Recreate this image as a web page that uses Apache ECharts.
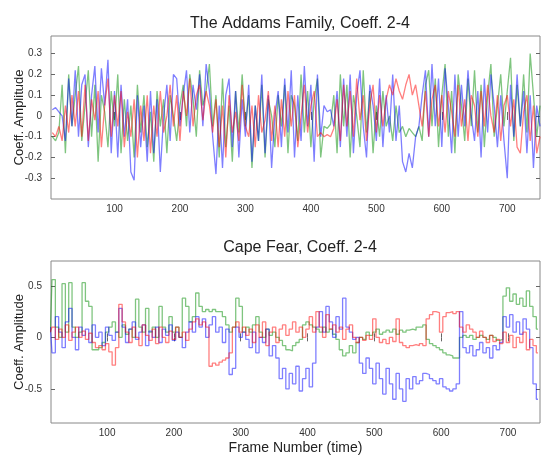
<!DOCTYPE html>
<html>
<head>
<meta charset="utf-8">
<script src="https://cdn.jsdelivr.net/npm/echarts@6.0.0/dist/echarts.min.js"></script>
<style>
  html, body { margin: 0; padding: 0; background: #fff; }
  #chart { width: 541px; height: 459px; }
</style>
</head>
<body>
<div id="chart"></div>
<script>
  // frames are sampled every 5 frames
  const frameStep = 5;
  const addamsStart = 5;
  const capeStart = 15;

  // The Addams Family, coeff. 2-4
  const addamsBlue = [
    0.03, 0.04, 0.02, 0.0, -0.12, 0.18, -0.05, 0.22, -0.1, 0.15,
    0.2, -0.15, 0.1, 0.24, -0.08, 0.23, 0.05, 0.27, -0.18, 0.12,
    -0.2, 0.15, -0.1, 0.08, -0.27, -0.31, 0.1, -0.15, 0.05, -0.22,
    0.12, -0.18, 0.08, -0.27, 0.0, 0.15, -0.12, 0.2, 0.18, -0.05,
    0.1, 0.22, -0.08, 0.15, 0.03, 0.2, -0.05, 0.25, 0.12, -0.1,
    -0.28, 0.05, -0.25, 0.1, 0.18, -0.15, 0.12, -0.2, 0.08, -0.1,
    0.15, -0.22, 0.05, -0.12, 0.2, -0.18, 0.1, -0.25, 0.0, 0.12,
    -0.15, 0.18, -0.08, 0.22, -0.2, 0.1, -0.12, 0.24, -0.05, 0.15,
    -0.22, 0.2, -0.1, 0.05, 0.02, 0.03, -0.05, 0.12, -0.15, 0.18,
    -0.1, 0.2, -0.18, 0.1, 0.22, -0.05, -0.2, 0.15, 0.05, -0.12,
    0.18, -0.15, 0.1, -0.08, 0.2, -0.12, 0.05, -0.22, -0.27, -0.18,
    -0.25, -0.1, -0.05, 0.1, 0.22, -0.1, 0.25, -0.05, 0.18, -0.15,
    0.23, 0.05, -0.18, 0.2, -0.1, 0.15, -0.05, 0.22, 0.0, -0.12,
    0.12, -0.2, 0.18, -0.08, 0.2, 0.05, -0.15, 0.1, -0.12, -0.3,
    0.15, -0.1, 0.2, -0.05, 0.12, -0.18, 0.1, -0.25, 0.05, -0.05
  ];
  const addamsRed = [
    -0.08, -0.1, -0.05, -0.12, 0.05, -0.08, 0.1, -0.05, 0.12, -0.1,
    0.15, -0.12, 0.08, -0.02, 0.12, -0.15, 0.05, 0.18, -0.1, 0.1,
    -0.05, 0.12, -0.15, 0.02, -0.1, 0.08, -0.2, 0.05, -0.12, 0.1,
    -0.18, 0.05, -0.1, 0.12, -0.08, 0.0, 0.15, -0.05, 0.1, -0.12,
    0.12, 0.0, 0.18, -0.05, 0.1, 0.15, -0.02, 0.12, 0.05, -0.08,
    0.08, -0.15, 0.05, -0.2, 0.1, -0.08, 0.02, -0.12, 0.15, -0.05,
    -0.1, 0.05, -0.15, 0.1, -0.08, -0.02, 0.12, -0.12, 0.05, -0.15,
    0.08, -0.1, 0.12, -0.05, 0.1, -0.15, 0.0, 0.15, -0.08, 0.05,
    0.12, -0.1, -0.08, -0.1, -0.09, -0.1, -0.06, 0.08, -0.12, 0.15,
    -0.05, 0.12, -0.1, 0.18, -0.02, 0.1, -0.12, 0.05, 0.15, -0.08,
    0.1, -0.05, 0.08, 0.15, 0.1, 0.18, 0.12, 0.08, 0.15, 0.2,
    0.1, 0.15, 0.05, -0.05, 0.12, -0.1, 0.08, 0.15, -0.05, 0.1,
    -0.08, 0.12, 0.02, -0.1, 0.15, -0.05, 0.08, -0.12, 0.1, 0.05,
    -0.1, 0.12, -0.05, 0.15, 0.0, -0.08, 0.1, -0.12, 0.05, 0.1,
    -0.05, 0.08, -0.15, -0.18, 0.02, 0.1, -0.12, 0.05, -0.18, -0.1
  ];
  const addamsGreen = [
    -0.1, -0.12, -0.08, 0.15, -0.18, 0.2, -0.05, 0.1, 0.24, -0.12,
    0.05, 0.22, -0.1, 0.15, -0.22, 0.1, 0.02, -0.15, 0.12, -0.05,
    0.2, -0.18, 0.08, -0.12, 0.05, -0.2, 0.15, -0.08, 0.1, -0.15,
    0.02, -0.22, 0.12, -0.05, 0.08, -0.18, 0.1, 0.0, -0.12, 0.05,
    0.15, -0.05, 0.2, 0.08, -0.1, 0.22, 0.05, 0.12, 0.25, -0.05,
    0.1, -0.2, 0.18, -0.15, 0.05, -0.22, 0.12, -0.08, 0.2, -0.05,
    0.1, -0.25, 0.05, -0.12, 0.15, -0.2, 0.08, 0.0, -0.15, 0.1,
    -0.05, 0.15, -0.18, 0.1, 0.05, -0.12, 0.2, -0.08, 0.12, -0.15,
    0.08, 0.18, -0.2, -0.05, -0.06, -0.04, 0.1, -0.18, 0.2, -0.05,
    0.15, -0.2, 0.1, 0.0, -0.15, 0.22, -0.08, 0.12, -0.18, 0.05,
    -0.1, 0.12, -0.05, 0.0, -0.12, 0.05, -0.08, -0.05, -0.1, -0.06,
    -0.08, -0.1, -0.05, -0.12, 0.15, 0.22, -0.05, 0.18, -0.15, 0.1,
    0.25, -0.1, 0.12, -0.18, 0.2, 0.05, -0.12, 0.18, -0.05, 0.22,
    -0.08, 0.15, -0.15, 0.1, 0.25, -0.1, 0.05, 0.2, -0.05, 0.12,
    0.28, -0.12, 0.15, -0.05, 0.2, -0.08, 0.3, 0.1, -0.1, 0.05
  ];

  // Cape Fear, coeff. 2-4
  const capeGreen = [
    0.05, 0.56, 0.1, 0.0, 0.52, 0.05, 0.53, 0.1, 0.0, 0.05,
    0.53, 0.35, 0.3, -0.12, -0.12, -0.1, -0.05, 0.05, 0.1, 0.15,
    0.05, 0.0, 0.12, 0.03, 0.08, 0.0, 0.37, 0.1, 0.05, 0.28,
    0.05, 0.1, 0.0, 0.3, 0.1, 0.05, 0.2, 0.05, 0.1, 0.0,
    0.38, 0.3, 0.15, 0.2, 0.43, 0.3, 0.25, 0.27,
    0.25, 0.27, 0.25, 0.25, 0.2, 0.12, 0.05, 0.1, 0.38, 0.3,
    0.05, 0.1, 0.05, 0.12, 0.2, 0.05, 0.0, 0.08, 0.02, 0.05,
    0.0, -0.03, -0.08, -0.12, -0.13, -0.08, -0.05, -0.02, 0.12, 0.15,
    0.12, 0.1, 0.08, 0.05, 0.1, 0.05, 0.08, 0.03, -0.02, -0.12,
    -0.18, -0.15, -0.08, -0.15, -0.05, 0.0, -0.02, 0.05, 0.02, 0.05,
    0.08, 0.03, 0.05, 0.07, 0.05, 0.08, 0.03, 0.07, 0.05, 0.07,
    0.08, 0.07, 0.1, 0.1, 0.12, -0.02, -0.06, -0.08, -0.1, -0.12,
    -0.15, -0.17, -0.18, -0.2, -0.2, 0.0, 0.02, 0.0, 0.02, -0.02,
    0.0, 0.02, 0.0, -0.02, 0.02, 0.0, -0.03, -0.02, 0.4, 0.48,
    0.35, 0.42, 0.32, 0.38, 0.3, 0.45, 0.3, 0.2, 0.08
  ];
  const capeRed = [
    0.05, 0.1, -0.02, 0.08, 0.0, 0.12, -0.03, 0.05, 0.1, 0.0, 0.06, -0.02, 0.04,
    -0.05, -0.1, -0.08, -0.12, -0.06, -0.14, -0.27,
    -0.1, 0.32, 0.15,
    0.05, -0.05, 0.1, 0.0, -0.08, 0.12, 0.02, -0.03, 0.08, -0.06, 0.1, 0.0, -0.05, 0.06, -0.02, 0.1, 0.0,
    0.05, -0.03, 0.08,
    0.15, 0.18, 0.12, 0.15, 0.1,
    -0.28, -0.25, -0.27, -0.24, -0.22, -0.2, -0.15,
    0.1, 0.15, 0.05, 0.1, 0.02, 0.08,
    -0.05, 0.12, 0.0, 0.15, -0.08, 0.05, 0.1, -0.05, 0.08,
    0.12, 0.02, 0.08, 0.15, 0.05, 0.1, 0.0, 0.08,
    0.2, 0.05, 0.25, 0.1, 0.0, 0.22, 0.08, 0.12,
    0.05, 0.1, -0.02, 0.08, 0.12, 0.0, -0.05, 0.0, -0.03, 0.02,
    -0.02, 0.18, 0.0, -0.05, -0.02, -0.06, 0.0, -0.04, 0.18,
    -0.05, -0.08, -0.1, -0.08, -0.07, -0.08, -0.06, -0.08,
    0.18, 0.22, 0.25, 0.24, 0.05, 0.2, 0.24, 0.25, 0.23, 0.25,
    0.1, 0.05, 0.12, 0.08, 0.05, 0.0, 0.06,
    0.0, -0.05, 0.02, -0.04, -0.02, -0.06,
    0.05, -0.05, 0.02, -0.1, 0.0, -0.05, 0.05, -0.12, -0.02, -0.08, -0.15
  ];
  const capeBlue = [
    0.1, -0.15, 0.2, 0.05, -0.1, 0.15, 0.28, 0.0, -0.12, 0.1, 0.02,
    0.08, -0.05, 0.12, 0.0, 0.05, -0.08, 0.1, 0.02, -0.03, 0.05,
    0.28,
    0.1, -0.05, 0.08, 0.15, -0.02, 0.05, 0.12, -0.08, 0.06, 0.0, 0.1, -0.05, 0.08, 0.02, 0.12, -0.03, 0.05, 0.0, -0.1, 0.05,
    0.15, 0.05, 0.2, 0.1, 0.18, 0.0, 0.12, 0.2, 0.05, 0.1, -0.05, 0.08,
    -0.36, -0.3,
    0.1, 0.0, 0.05, -0.02,
    -0.1, 0.05, -0.15, 0.0, -0.05, 0.08, -0.18, -0.08,
    -0.2, -0.4, -0.3, -0.5, -0.35, -0.45, -0.28, -0.52, -0.4, -0.3, -0.48, -0.25,
    0.1, 0.25, 0.05, 0.3, 0.15, 0.0, 0.2, 0.08, 0.38, 0.1,
    0.05, -0.02, 0.0,
    -0.25, -0.35, -0.2, -0.3, -0.45, -0.25, -0.4, -0.55, -0.3, -0.45, -0.6, -0.35, -0.5, -0.62, -0.4, -0.5, -0.38, -0.45, -0.42, -0.35,
    -0.36, -0.4, -0.42, -0.45, -0.4, -0.48, -0.5, -0.52, -0.5, -0.45,
    0.25, -0.1, -0.15, -0.08, -0.18, -0.12, -0.05, -0.15, -0.1, -0.2, -0.08, -0.12, -0.05,
    0.2, 0.1, 0.22, 0.05, 0.15, 0.03, 0.18, 0.08, -0.1, -0.45, -0.6
  ];

  // tick labels
  const frameTicks = [100, 200, 300, 400, 500, 600, 700];
  const addamsTicks = [-0.3, -0.2, -0.1, 0, 0.1, 0.2, 0.3];
  const capeTicks = [-0.5, 0, 0.5];

  const fontFam = '"Liberation Sans", Arial, Helvetica, sans-serif';
  const red = 'rgba(255,0,0,0.5)';
  const green = 'rgba(0,140,0,0.5)';
  const blue = 'rgba(0,0,255,0.5)';

  function toPoints(values, start) {
    return values.map(function (v, i) { return [start + i * frameStep, v]; });
  }

  function xAxisFor(gridIndex, min, max, top) {
    return {
      type: 'value', gridIndex: gridIndex, min: min, max: max,
      position: top ? 'top' : 'bottom',
      axisLine: {show: false},
      splitLine: {show: false},
      axisTick: {show: true, inside: true, length: 4, customValues: frameTicks,
        lineStyle: {color: '#666'}},
      axisLabel: {show: !top, customValues: frameTicks, margin: 5,
        fontSize: 10, color: '#333', fontFamily: fontFam}
    };
  }

  function yAxisFor(gridIndex, min, max, ticks, right) {
    return {
      type: 'value', gridIndex: gridIndex, min: min, max: max,
      position: right ? 'right' : 'left',
      axisLine: {show: false},
      splitLine: {show: false},
      axisTick: {show: true, inside: true, length: 4, customValues: ticks,
        lineStyle: {color: '#666'}},
      axisLabel: {show: !right, customValues: ticks, margin: 9,
        fontSize: 10, color: '#333', fontFamily: fontFam},
      name: right ? '' : 'Coeff. Amplitude',
      nameLocation: 'middle',
      nameGap: 25,
      nameMoveOverlap: false,
      nameTextStyle: {fontSize: 13, color: '#222', fontFamily: fontFam}
    };
  }

  function lineSeries(values, start, color, xi, yi, step) {
    return {
      type: 'line', xAxisIndex: xi, yAxisIndex: yi,
      data: toPoints(values, start),
      showSymbol: false, symbol: 'none', step: step ? 'middle' : false,
      lineStyle: {width: 1.3, color: color},
      silent: true
    };
  }

  let myChart = echarts.init(document.getElementById('chart'));

  let bottomX = xAxisFor(1, 16, 748, false);
  bottomX.name = 'Frame Number (time)';
  bottomX.nameLocation = 'middle';
  bottomX.nameGap = 18;
  bottomX.nameMoveOverlap = false;
  bottomX.nameTextStyle = {fontSize: 14, color: '#222', fontFamily: fontFam};

  let option = {
    animation: false,
    backgroundColor: '#fff',
    title: [
      {text: 'The Addams Family, Coeff. 2-4', left: 295, top: 11, textAlign: 'center',
        textStyle: {fontSize: 16, fontWeight: 'normal', color: '#222', fontFamily: fontFam}},
      {text: 'Cape Fear, Coeff. 2-4', left: 295, top: 235, textAlign: 'center',
        textStyle: {fontSize: 16, fontWeight: 'normal', color: '#222', fontFamily: fontFam}}
    ],
    grid: [
      {left: 51, top: 36, width: 489, height: 163, show: true, borderColor: '#888', borderWidth: 1,
        outerBoundsMode: 'none', containLabel: false},
      {left: 51, top: 261, width: 489, height: 162, show: true, borderColor: '#888', borderWidth: 1,
        outerBoundsMode: 'none', containLabel: false}
    ],
    xAxis: [
      xAxisFor(0, 3, 750, false),
      bottomX,
      xAxisFor(0, 3, 750, true),
      xAxisFor(1, 16, 748, true)
    ],
    yAxis: [
      yAxisFor(0, -0.4, 0.385, addamsTicks, false),
      yAxisFor(1, -0.83, 0.74, capeTicks, false),
      yAxisFor(0, -0.4, 0.385, addamsTicks, true),
      yAxisFor(1, -0.83, 0.74, capeTicks, true)
    ],
    series: [
      lineSeries(addamsGreen, addamsStart, green, 0, 0, false),
      lineSeries(addamsBlue, addamsStart, blue, 0, 0, false),
      lineSeries(addamsRed, addamsStart, red, 0, 0, false),
      lineSeries(capeGreen, capeStart, green, 1, 1, true),
      lineSeries(capeBlue, capeStart, blue, 1, 1, true),
      lineSeries(capeRed, capeStart, red, 1, 1, true)
    ]
  };
  myChart.setOption(option);
</script>
</body>
</html>
